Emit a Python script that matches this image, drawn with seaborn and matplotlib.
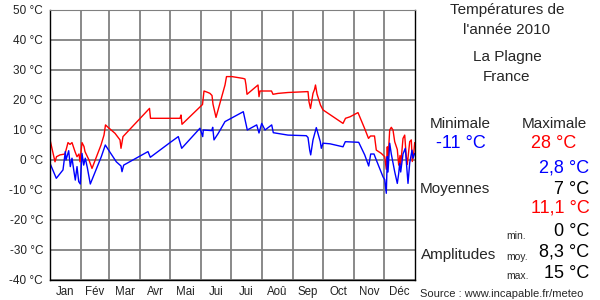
import matplotlib
matplotlib.use("Agg")
import matplotlib.pyplot as plt
import seaborn as sns

# ---- data ----
months = ["Jan", "Fév", "Mar", "Avr", "Mai", "Jui", "Jui", "Aoû", "Sep", "Oct", "Nov", "Déc"]
month_starts = [0, 31, 59, 90, 120, 151, 181, 212, 243, 273, 304, 334, 365]
yticks = [-40, -30, -20, -10, 0, 10, 20, 30, 40, 50]

days_max = [0, 5, 6.5, 10, 15, 18, 20, 22, 25, 27, 29, 30, 32, 34, 35, 39, 42, 51, 54, 55.5,
            58, 65, 70, 71, 73, 99.5, 100.5, 130, 131, 132, 152.5, 154, 158, 160, 162, 163,
            166, 175, 176.5, 182, 193, 195, 196, 197, 208, 209, 210, 221.5, 223, 228, 238,
            258, 259, 260.5, 263, 264.5, 265.5, 267, 270.5, 273, 293, 295.5, 300, 308, 314.5,
            318.5, 320.5, 324.5, 326.3, 331.3, 334.7, 336.3, 337.3, 338, 339.7, 341.3, 343,
            344.7, 347.3, 348.7, 350, 350.7, 353, 354.7, 356.3, 357.3, 359.7, 361.3, 362.3,
            363.7, 364.7]
tmax = [6.8, -0.6, 1.1, 1.7, 2.0, 5.8, 5.2, 5.8, 2.8, 1.1, 2.0, -0.6, 5.8, 4.5, 2.8, 0.0, -2.8,
        5.0, 8.3, 11.7, 10.9, 8.9, 6.7, 3.9, 7.8, 17.2, 13.9, 13.9, 15.0, 11.9, 18.5, 23.0,
        22.5, 22.2, 21.5, 18.6, 14.2, 25.0, 27.8, 27.8, 27.2, 27.0, 25.0, 21.9, 25.0, 21.1,
        23.0, 23.0, 21.9, 22.2, 22.5, 22.8, 19.4, 17.2, 22.2, 23.5, 25.0, 22.0, 18.3, 16.7,
        12.2, 13.9, 14.4, 15.8, 10.6, 7.2, 8.0, 8.0, 3.3, 2.2, 1.1, -3.1, 4.4, 0.0, 10.0,
        10.9, 10.0, 6.1, 3.5, -1.7, 1.5, -1.7, 7.2, 8.3, 1.1, -1.5, 6.1, 6.7, -0.5, 2.2, 5.8]

days_min = [0, 6.3, 13, 15.3, 16, 18.7, 20.3, 22, 24, 25.3, 27, 28.7, 30.3, 32, 33.7, 35.3,
            37.3, 40.3, 51.3, 55.3, 58, 66.3, 71, 72, 73.7, 98, 100.3, 120, 128.3, 131.7, 150,
            152.7, 153.3, 161.7, 162.7, 164, 168.3, 175, 193.3, 197.3, 206.7, 209, 211.7, 215,
            221.7, 223.3, 238, 256.3, 258, 259.7, 260.7, 263, 266.3, 270.3, 271.3, 273, 280,
            293, 295.3, 308.7, 314.7, 318.7, 320.7, 324, 326.3, 333, 334.7, 336.3, 337.3, 338,
            339.7, 341.3, 344.7, 347.3, 348.7, 349.7, 350.7, 353, 355.3, 358, 359.7, 362, 363,
            364.7]
tmin = [-1.1, -6.1, -3.3, 2.8, 0.0, 3.1, -2.2, 0.6, -3.9, -6.7, -2.2, -7.2, -8.0, 2.2, -1.7,
        0.6, -2.5, -8.0, 1.1, 5.0, 3.6, -0.6, -2.0, -3.9, -1.7, 2.8, 0.9, 5.8, 7.8, 3.9, 10.6,
        7.8, 10.0, 9.8, 10.9, 6.7, 8.9, 12.8, 16.1, 10.0, 11.7, 9.0, 12.2, 10.0, 11.7, 9.1,
        8.3, 8.1, 7.5, 3.3, 1.7, 6.7, 10.8, 6.1, 3.9, 5.6, 5.4, 4.4, 6.1, 5.9, 1.7, -2.0, 2.0,
        2.0, 0.0, -5.6, -6.5, -11.1, 1.1, -4.0, 5.6, 2.0, -3.9, -7.8, -4.5, -1.1, -4.0, 2.0,
        3.9, -7.8, -1.0, 3.3, 0.6, 2.2]

title_lines = ["Températures de", "l'année 2010", "La Plagne", "France"]
stat_min, stat_max = "-11 °C", "28 °C"
moy_vals = ["2,8 °C", "7 °C", "11,1 °C"]
amp_labels = ["min.", "moy.", "max."]
amp_vals = ["0 °C", "8,3 °C", "15 °C"]
source = "Source : www.incapable.fr/meteo"

# ---- style ----
sns.set_style("white")
plt.rcParams["font.family"] = ["Liberation Sans", "DejaVu Sans"]

W, H = 600, 300
fig = plt.figure(figsize=(6, 3), dpi=100)
ax = fig.add_axes([50 / W, 1 - 280 / H, 365 / W, 270 / H])

sns.lineplot(x=days_max, y=tmax, ax=ax, color="#ff0000", lw=1.0, estimator=None, sort=False)
sns.lineplot(x=days_min, y=tmin, ax=ax, color="#0000ff", lw=1.0, estimator=None, sort=False)

ax.set_xlim(0, 365)
ax.set_ylim(-40, 50)
for d in month_starts[1:-1]:
    ax.axvline(d, color="#808080", lw=1.3, zorder=0)
for v in yticks:
    ax.axhline(v, color="#808080", lw=1.3, zorder=0)

ax.set_yticks(yticks)
ax.set_yticklabels([f"{v} °C" for v in yticks], fontsize=8.5)
centers = [(month_starts[i] + month_starts[i + 1]) / 2 for i in range(12)]
ax.set_xticks(centers)
ax.set_xticklabels(months, fontsize=8.3)
ax.tick_params(axis="both", length=0, pad=4, colors="#222222")
ax.tick_params(axis="y", pad=5)
for s in ["left", "bottom", "right"]:
    ax.spines[s].set_color("black")
    ax.spines[s].set_linewidth(1.0)
ax.spines["top"].set_color("#808080")
ax.set_xlabel("")
ax.set_ylabel("")

def T(x, y, s, **kw):
    fig.text(x / W, 1 - y / H, s, va="center", **kw)

T(507, 10, title_lines[0], ha="center", fontsize=11)
T(507, 30, title_lines[1], ha="center", fontsize=11)
T(507, 57, title_lines[2], ha="center", fontsize=11)
T(507, 77, title_lines[3], ha="center", fontsize=11)

T(460, 124, "Minimale", ha="center", fontsize=11)
T(554, 124, "Maximale", ha="center", fontsize=11)
T(461, 144, stat_min, ha="center", fontsize=13, color="#0000ff")
T(554, 144, stat_max, ha="center", fontsize=13, color="#ff0000")

T(589, 168, moy_vals[0], ha="right", fontsize=13, color="#0000ff")
T(420, 189, "Moyennes", ha="left", fontsize=11)
T(589, 189, moy_vals[1], ha="right", fontsize=13, color="black")
T(590, 208, moy_vals[2], ha="right", fontsize=13, color="#ff0000")

T(421, 255, "Amplitudes", ha="left", fontsize=11)
for lab, val, yl, yv in zip(amp_labels, amp_vals, [236, 257, 276], [232, 252, 273]):
    T(506, yl, lab, ha="left", fontsize=7.5)
    T(589, yv, val, ha="right", fontsize=13, color="black")

T(420, 294, source, ha="left", fontsize=8)

fig.savefig("out.png", dpi=100)
